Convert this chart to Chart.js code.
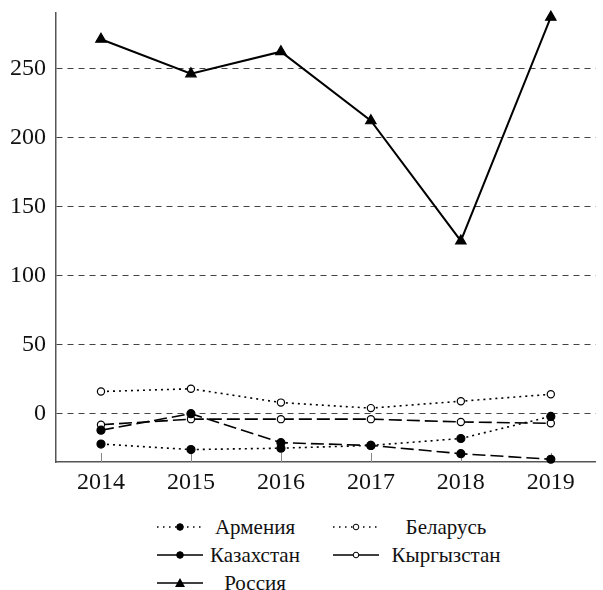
<!DOCTYPE html>
<html>
<head>
<meta charset="utf-8">
<script src="https://cdn.jsdelivr.net/npm/chart.js@4.4.1/dist/chart.umd.min.js"></script>
<style>
  body { margin: 0; background: #fff; font-family: "Liberation Serif", "DejaVu Serif", serif; }
  #wrap { position: relative; width: 603px; height: 590px; }
  #chart { position: absolute; left: 0; top: 0; }
  #legend {
    position: absolute; left: 155px; top: 513px;
    display: grid; grid-template-columns: 50px 100px 26px 50px 130px;
    grid-auto-rows: 28px; align-items: center;
    font-size: 21px; color: #111;
  }
  #legend svg { display: block; }
  #legend .t { text-align: center; white-space: nowrap; }
</style>
</head>
<body>
<div id="wrap">
  <canvas id="chart" width="603" height="500"></canvas>
  <div id="legend"></div>
</div>
<script>
// years and values
const years = ['2014', '2015', '2016', '2017', '2018', '2019'];
const armenia    = [-22, -26, -25, -23, -18, -2];
const belarus    = [16, 18, 8, 4, 9, 14];
const kazakhstan = [-12, 0, -21, -23, -29, -33];
const kyrgyzstan = [-8, -4, -4, -4, -6, -7];
const russia     = [271, 246, 262, 212, 125, 287];
const yTicks = [0, 50, 100, 150, 200, 250];

const font = { family: '"Liberation Serif", "DejaVu Serif", serif', size: 24 };
const dotted = [2, 4];
const dashed = [13, 5];

function series(label, data, opts) {
  return Object.assign({
    label: label,
    data: data,
    borderColor: '#000',
    borderWidth: 1.6,
    pointRadius: 4,
    pointBorderColor: '#000',
    pointBorderWidth: 1.2,
    pointBackgroundColor: '#000',
    tension: 0,
    clip: false
  }, opts);
}

const datasets = [
  series('Армения', armenia, { borderDash: dotted }),
  series('Беларусь', belarus, { borderDash: dotted, pointBackgroundColor: '#fff', pointRadius: 3.6 }),
  series('Казахстан', kazakhstan, { borderDash: dashed }),
  series('Кыргызстан', kyrgyzstan, { borderDash: dashed, pointBackgroundColor: '#fff', pointRadius: 3.6 }),
  series('Россия', russia, { pointStyle: 'triangle', pointRadius: 6, borderWidth: 2 })
];

// small tick marks pointing up into the plot
const innerTicks = {
  id: 'innerTicks',
  beforeDatasetsDraw(chart) {
    const ctx = chart.ctx;
    const x = chart.scales.x;
    const b = chart.chartArea.bottom;
    ctx.save();
    ctx.strokeStyle = '#888';
    ctx.lineWidth = 1;
    years.forEach((y, i) => {
      const px = Math.round(x.getPixelForValue(i)) + 0.5;
      ctx.beginPath();
      ctx.moveTo(px, b);
      ctx.lineTo(px, b - 9);
      ctx.stroke();
    });
    ctx.restore();
  }
};

new Chart(document.getElementById('chart'), {
  type: 'line',
  data: { labels: years, datasets: datasets },
  options: {
    responsive: false,
    animation: false,
    layout: { padding: { top: 13, right: 3, left: 0, bottom: 0 } },
    plugins: { legend: { display: false }, tooltip: { enabled: false } },
    scales: {
      x: {
        offset: true,
        grid: { display: false, drawTicks: false },
        border: { display: true, color: '#555', width: 1.5 },
        ticks: { font: font, color: '#111', padding: 6 },
        afterFit(s) { s.height = 38; s.paddingLeft = 0; s.paddingRight = 0; }
      },
      y: {
        min: -35,
        max: 290,
        afterBuildTicks(s) { s.ticks = yTicks.map(v => ({ value: v })); },
        grid: { color: '#444', lineWidth: 1, drawTicks: false },
        border: { display: true, color: '#555', width: 1.5, dash: [6, 5] },
        ticks: { font: font, color: '#111', padding: 10 },
        afterFit(s) { s.width = 56; s.paddingTop = 0; s.paddingBottom = 0; }
      }
    }
  },
  plugins: [innerTicks]
});

// legend: line sample + marker, drawn as svg next to real text
const legendLine = [dotted, dotted, [], [], []];

function sample(ds, dash) {
  const w = 50, y = 10, mid = 25;
  let mark;
  if (ds.pointStyle === 'triangle') {
    mark = `<polygon points="${mid - 5},${y + 4} ${mid + 5},${y + 4} ${mid},${y - 5}" fill="#000"/>`;
  } else {
    const open = ds.pointBackgroundColor === '#fff';
    mark = `<circle cx="${mid}" cy="${y}" r="${open ? 2.8 : 3.3}" fill="${ds.pointBackgroundColor}" stroke="#000" stroke-width="1"/>`;
  }
  const da = dash.length ? `stroke-dasharray="1.5 4.5"` : '';
  return `<svg width="${w}" height="20"><line x1="2" y1="${y}" x2="${w - 2}" y2="${y}" stroke="#000" stroke-width="1.6" ${da}/>${mark}</svg>`;
}

const legend = document.getElementById('legend');
datasets.forEach((ds, i) => {
  const col = i % 2 === 0 ? 1 : 4;
  const row = Math.floor(i / 2) + 1;
  const s = document.createElement('div');
  s.innerHTML = sample(ds, legendLine[i]);
  s.style.gridColumn = col;
  s.style.gridRow = row;
  const t = document.createElement('div');
  t.className = 't';
  t.textContent = ds.label;
  t.style.gridColumn = col + 1;
  t.style.gridRow = row;
  legend.appendChild(s);
  legend.appendChild(t);
});
</script>
</body>
</html>
